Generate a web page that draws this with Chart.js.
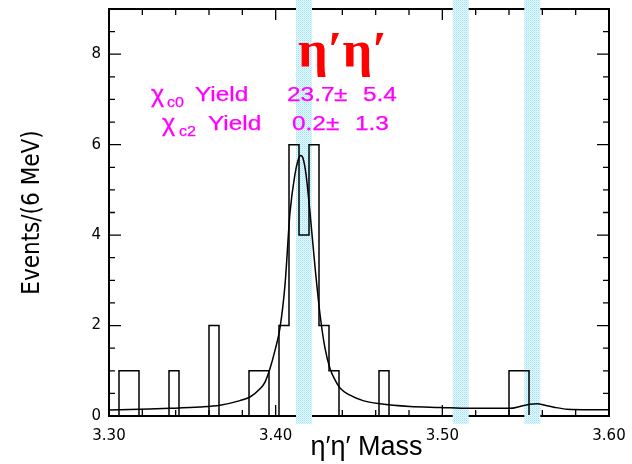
<!DOCTYPE html>
<html><head><meta charset="utf-8">
<script src="https://cdn.jsdelivr.net/npm/chart.js@4.4.0/dist/chart.umd.min.js"></script>
<style>html,body{margin:0;padding:0;background:#fff;} #wrap{width:632px;height:464px;position:relative;}</style>
</head><body><div id="wrap"><canvas id="c" width="632" height="464" style="width:632px;height:464px;"></canvas></div>
<script>
// ---- data ----
const binLow = 3.30;
const binWidth = 0.006;
const counts = [0,1,1,0,0,0,1,0,0,0, 2,0,0,0,1,1,0,2,6,4, 6,2,1,0,0,0,0,1,0,0,
                0,0,0,0,0,0,0,0,0,0, 1,1,0,0,0,0,0,0,0,0];
const fitX = [3.300,3.3186,3.3366,3.3546,3.3666,3.3786,3.3846,3.3906,3.3936,3.3966,3.3996,3.4026,3.4056,3.4086,3.4116,3.4134,3.4150,3.4164,3.4182,3.4206,3.4236,3.4266,3.4296,3.4326,3.4356,3.4386,3.4446,3.4524,3.4626,3.4806,3.4986,3.5166,3.5346,3.5406,3.5466,3.5526,3.5568,3.5616,3.5676,3.5748,3.5886,3.600];
const fitY = [0.13,0.15,0.17,0.20,0.24,0.34,0.42,0.60,0.75,1.05,1.45,1.95,2.9,4.5,5.35,5.65,5.76,5.7,5.35,4.5,3.3,2.25,1.5,1.05,0.8,0.62,0.46,0.34,0.27,0.21,0.19,0.17,0.17,0.17,0.21,0.26,0.27,0.24,0.19,0.15,0.14,0.14];
const xTickValues = [3.30, 3.40, 3.50, 3.60];
const yTickValues = [0, 2, 4, 6, 8];
const xMinorStep = 0.02;
const yMinorStep = 0.5;
const bandCenters = [3.417, 3.511, 3.554];
const bandWidth = 0.0096;
const titleText = 'η′η′';
const yieldStates = ['c0', 'c2'];
const yieldValues = ['23.7', '0.2'];
const yieldErrors = ['5.4', '1.3'];
const xTitle = '  η′η′ Mass';
const yTitle = 'Events/(6 MeV)';

// ---- build tables for the library ----
const histPoints = [];
for (let i = 0; i <= counts.length; i++) {
  histPoints.push({x: binLow + i * binWidth, y: counts[Math.min(i, counts.length - 1)]});
}
const fitPoints = fitX.map((x, i) => ({x: x, y: fitY[i]}));

function makePattern() {
  const pc = document.createElement('canvas');
  pc.width = 2; pc.height = 2;
  const p = pc.getContext('2d');
  p.fillStyle = '#e6f8fd'; p.fillRect(0, 0, 2, 2);
  p.fillStyle = '#9ee2f5'; p.fillRect(0, 0, 1, 1);
  p.fillStyle = '#c4eefa'; p.fillRect(1, 1, 1, 1);
  return pc;
}

function sText(ctx, text, x, y, font, color, sx, stroke) {
  ctx.save();
  ctx.font = font; ctx.fillStyle = color; ctx.textBaseline = 'alphabetic'; ctx.textAlign = 'left';
  ctx.translate(x, y); ctx.scale(sx, 1);
  ctx.fillText(text, 0, 0);
  if (stroke) { ctx.strokeStyle = color; ctx.lineWidth = stroke; ctx.strokeText(text, 0, 0); }
  ctx.restore();
}

const framePlugin = {
  id: 'frame',
  beforeDatasetsDraw(chart) {
    const {ctx, chartArea: ca, scales} = chart;
    const xs = scales.x, ys = scales.y;
    ctx.save();
    ctx.strokeStyle = '#000';
    ctx.lineWidth = 2;
    ctx.strokeRect(ca.left, ca.top, ca.right - ca.left, ca.bottom - ca.top);
    ctx.lineWidth = 1.3;
    ctx.beginPath();
    const nx = Math.round((xs.max - xs.min) / xMinorStep);
    for (let i = 0; i <= nx; i++) {
      const v = xs.min + i * xMinorStep;
      const major = xTickValues.some(t => Math.abs(t - v) < 1e-6);
      const L = major ? 11 : 6;
      const px = xs.getPixelForValue(v);
      ctx.moveTo(px, ca.bottom); ctx.lineTo(px, ca.bottom - L);
      ctx.moveTo(px, ca.top); ctx.lineTo(px, ca.top + L);
    }
    const ny = Math.round((ys.max - ys.min) / yMinorStep);
    for (let i = 0; i <= ny; i++) {
      const v = ys.min + i * yMinorStep;
      const major = yTickValues.some(t => Math.abs(t - v) < 1e-6);
      const L = major ? 12 : 6;
      const py = ys.getPixelForValue(v);
      ctx.moveTo(ca.left, py); ctx.lineTo(ca.left + L, py);
      ctx.moveTo(ca.right, py); ctx.lineTo(ca.right - L, py);
    }
    ctx.stroke();
    // cyan bands
    ctx.fillStyle = ctx.createPattern(makePattern(), 'repeat');
    bandCenters.forEach(c => {
      const l = xs.getPixelForValue(c - bandWidth / 2);
      const r = xs.getPixelForValue(c + bandWidth / 2);
      ctx.fillRect(l, 0, r - l, ca.bottom + 8);
    });
    ctx.restore();
  },
  afterDatasetsDraw(chart) {
    const {ctx, chartArea: ca} = chart;
    const L = ca.left, T = ca.top;
    // red title
    const tf = 'bold 50px "Liberation Serif", "Times New Roman", serif';
    ctx.save();
    ctx.font = tf;
    const w = ctx.measureText(titleText).width;
    ctx.restore();
    sText(ctx, titleText, L + 189, T + 57, tf, '#ff0000', 89 / w);
    const mag = '#ff00ff';
    const f = '20px "Liberation Sans", Arial, sans-serif';
    const fs = '14px "Liberation Sans", Arial, sans-serif';
    const fc = '24px "Liberation Sans", Arial, sans-serif';
    const sx = 1.22;
    const rows = [
      {chi: 42, sub: 58, yld: 86, val: 178, pm: 225, err: 254, base: 92},
      {chi: 53, sub: 70, yld: 99, val: 183, pm: 217, err: 246, base: 121}
    ];
    rows.forEach((r, i) => {
      sText(ctx, 'χ', L + r.chi, T + r.base + 1, fc, mag, 1.05, 0.3);
      sText(ctx, yieldStates[i], L + r.sub, T + r.base + 6, fs, mag, 1.15, 0.25);
      sText(ctx, 'Yield', L + r.yld, T + r.base, f, mag, sx, 0.25);
      sText(ctx, yieldValues[i], L + r.val, T + r.base, f, mag, sx, 0.25);
      sText(ctx, '±', L + r.pm, T + r.base, f, mag, sx, 0.25);
      sText(ctx, yieldErrors[i], L + r.err, T + r.base, f, mag, sx, 0.25);
    });
  }
};

new Chart(document.getElementById('c'), {
  type: 'line',
  data: {
    datasets: [
      {
        label: 'data',
        data: histPoints,
        stepped: 'before',
        borderColor: '#000',
        borderWidth: 1.5,
        pointRadius: 0,
        fill: false,
        clip: {left: 0, right: 0, top: 0, bottom: -1}
      },
      {
        label: 'fit',
        data: fitPoints,
        borderColor: '#000',
        borderWidth: 1.5,
        pointRadius: 0,
        cubicInterpolationMode: 'monotone',
        fill: false
      }
    ]
  },
  options: {
    responsive: false,
    animation: false,
    devicePixelRatio: 1,
    layout: {padding: {top: 9, right: 23, left: 0, bottom: 0}},
    plugins: {legend: {display: false}, tooltip: {enabled: false}},
    scales: {
      x: {
        type: 'linear', min: 3.30, max: 3.60,
        afterBuildTicks: s => { s.ticks = xTickValues.map(v => ({value: v})); },
        afterFit: s => { s.height = 48; s.paddingLeft = 0; s.paddingRight = 0; },
        grid: {display: false, drawTicks: false},
        border: {display: false},
        ticks: {
          padding: 11, color: '#000', maxRotation: 0, autoSkip: false,
          font: {family: '"DejaVu Sans", sans-serif', size: 15},
          callback: v => Number(v).toFixed(2)
        },
        title: {display: true, text: xTitle, color: '#000', padding: {top: 0, bottom: 0},
          font: {family: '"Liberation Sans", Arial, sans-serif', size: 27}}
      },
      y: {
        type: 'linear', min: 0, max: 9,
        afterBuildTicks: s => { s.ticks = yTickValues.map(v => ({value: v})); },
        afterFit: s => { s.width = 109; s.paddingTop = 0; s.paddingBottom = 0; },
        grid: {display: false, drawTicks: false},
        border: {display: false},
        ticks: {
          padding: 8, color: '#000',
          font: {family: '"DejaVu Sans", sans-serif', size: 15},
          callback: v => String(v)
        },
        title: {display: true, text: yTitle, color: '#000', padding: {top: 18, bottom: 0},
          font: {family: '"Liberation Sans Narrow", "DejaVu Sans Condensed", sans-serif', size: 24}}
      }
    }
  },
  plugins: [framePlugin]
});
</script>
</body></html>
